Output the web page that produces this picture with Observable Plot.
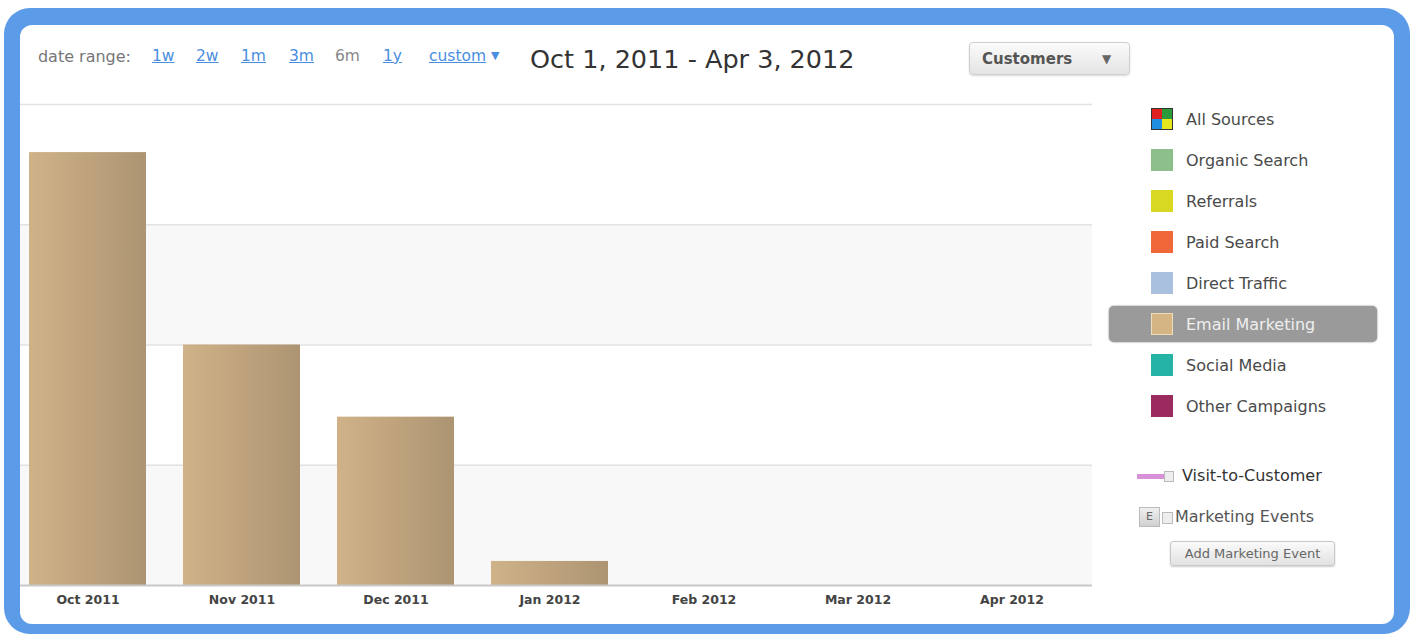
<!DOCTYPE html>
<html><head><meta charset="utf-8">
<script src="https://cdn.jsdelivr.net/npm/d3@7"></script>
<script src="https://cdn.jsdelivr.net/npm/@observablehq/plot@0.6"></script>
<style>
html,body{margin:0;padding:0;background:#fff;width:1413px;height:635px;overflow:hidden;font-family:"DejaVu Sans",Verdana,sans-serif;}
#frame{position:absolute;left:4px;top:8px;width:1406px;height:626px;background:#5b9be8;border-radius:26px;}
#inner{position:absolute;left:20px;top:25px;width:1374px;height:599px;background:#fff;border-radius:12px;overflow:hidden;}
#chart{position:absolute;left:-20px;top:-25px;}
#overlay{position:absolute;left:20px;top:25px;width:1374px;height:599px;overflow:hidden;}
#ovin{position:absolute;left:-20px;top:-25px;width:1413px;height:635px;}
.abs{position:absolute;white-space:nowrap;}
.link{color:#4a8ee0;text-decoration:underline;}
.legrow{position:absolute;left:1131px;width:246px;height:36px;}
.sw{position:absolute;top:7px;width:22px;height:22px;box-sizing:border-box;}
.lt{position:absolute;left:55px;top:9px;font-size:16px;color:#4a4a4a;}
</style></head>
<body>
<div id="frame"></div>
<div id="inner"><div id="chart"></div></div>
<div id="overlay"><div id="ovin"></div></div>
<script>
const months = ["Oct 2011","Nov 2011","Dec 2011","Jan 2012","Feb 2012","Mar 2012","Apr 2012"];
const customers = [18, 10, 7, 1, 0, 0, 0];
const yTicks = [0, 5, 10, 15, 20];
const shadedBands = [[0,5],[10,15]];
const rangeLinks = ["1w","2w","1m","3m","6m","1y","custom"];
const activeRange = "6m";
const titleText = "Oct 1, 2011 - Apr 3, 2012";
const legendLabels = ["All Sources","Organic Search","Referrals","Paid Search","Direct Traffic","Email Marketing","Social Media","Other Campaigns"];
const legendColors = [null,"#8dbf8a","#d8d822","#f0683a","#a9c0de","#d4b583","#24b3a5","#9b2b5e"];
const selectedLegend = "Email Marketing";

const data = months.map((m,i)=>({month:m, value:customers[i]}));
const bands = shadedBands.map(([a,b])=>({y1:a,y2:b}));

const plot = Plot.plot({
  width: 1092, height: 625,
  marginLeft: 27, marginRight: 19, marginTop: 104, marginBottom: 40,
  x: {domain: months, paddingInner: 0.238, paddingOuter: 0, label: null},
  y: {domain: [0,20], axis: null},
  style: {fontFamily: '"DejaVu Sans", Verdana, sans-serif', background: "transparent"},
  marks: [
    Plot.rect(bands, {y1:"y1", y2:"y2", fill:"#f8f8f8", insetLeft:-30, insetRight:-19}),
    Plot.ruleY(yTicks.filter(d=>d>0), {stroke:"#e2e2e2", strokeWidth:1.5, insetLeft:-30, insetRight:-19}),
    Plot.barY(data, {x:"month", y:"value", fill:"url(#barGrad)"}),
    Plot.ruleY([0], {stroke:"#c8c8c8", strokeWidth:2, insetLeft:-30, insetRight:-19}),
    Plot.axisX({tickSize:0, tickPadding:10, fontSize:12.5, fontWeight:"bold", fill:"#444", label:null})
  ]
});
const defs = d3.select(plot).insert("defs", ":first-child");
const g = defs.append("linearGradient").attr("id","barGrad").attr("x1","0").attr("x2","1").attr("y1","0").attr("y2","0");
g.append("stop").attr("offset","0").attr("stop-color","#cfb288");
g.append("stop").attr("offset","1").attr("stop-color","#ad9472");
document.getElementById("chart").appendChild(plot);

const ov = document.getElementById("ovin");
let html = "";
// header
html += `<div class="abs" style="left:24px;top:47px;width:107px;text-align:right;font-size:16px;color:#777;">date range:</div>`;
const linkX = [152,196,241,289,335,383,429];
rangeLinks.forEach((r,i)=>{
  const active = r===activeRange;
  html += `<div class="abs ${active?"":"link"}" style="left:${linkX[i]}px;top:47px;font-size:15.5px;color:${active?"#888":"#4a8ee0"};">${r}${r==="custom"?'<span style="text-decoration:none;display:inline-block;margin-left:5px;font-size:11px;vertical-align:2px;">▼</span>':""}</div>`;
});
html += `<div class="abs" style="left:530px;top:44px;font-size:25.5px;color:#333;">${titleText}</div>`;
html += `<div class="abs" style="left:969px;top:42px;width:161px;height:33px;box-sizing:border-box;border:1px solid #cfcfcf;border-radius:4px;background:linear-gradient(#fbfbfb,#e4e4e4);box-shadow:0 1px 2px rgba(0,0,0,0.15);"><span style="position:absolute;left:12px;top:7px;font-size:15px;font-weight:bold;color:#555;">Customers</span><span style="position:absolute;left:132px;top:9px;font-size:12px;color:#666;">▼</span></div>`;
// legend
legendLabels.forEach((lab,i)=>{
  const top = 101 + i*41;
  const sel = lab===selectedLegend;
  const swLeft = sel ? 42 : 20;
  let sw;
  if (legendColors[i]===null) {
    sw = `<div class="sw" style="left:${swLeft}px;border:1px solid #333;background:conic-gradient(#2a9a3a 0 25%, #e6e61e 25% 50%, #1e8fe0 50% 75%, #e02020 75% 100%);"></div>`;
  } else {
    sw = `<div class="sw" style="left:${swLeft}px;background:${legendColors[i]};${sel?"border:1px solid #ecdcbc;":""}"></div>`;
  }
  html += `<div class="legrow" style="top:${top}px;${sel?"left:1109px;width:268px;background:#9a9a9a;border-radius:5px;box-shadow:0 0 2px #777;":""}">${sw}<div class="lt" style="${sel?"left:77px;color:#eee;":""}">${lab}</div></div>`;
});
html += `<div class="abs" style="left:1137px;top:474px;width:28px;height:5px;background:#d892d8;"></div>`;
html += `<div class="abs" style="left:1164px;top:471px;width:10px;height:11px;border:1px solid #bbb;background:#eee;box-sizing:border-box;"></div>`;
html += `<div class="abs" style="left:1182px;top:466px;font-size:16px;color:#333;">Visit-to-Customer</div>`;
html += `<div class="abs" style="left:1139px;top:507px;width:21px;height:20px;border:1px solid #bbb;background:linear-gradient(#f0f0f0,#d0d0d0);box-sizing:border-box;font-size:11px;color:#666;text-align:center;line-height:18px;">E</div>`;
html += `<div class="abs" style="left:1162px;top:512px;width:11px;height:12px;border:1px solid #bbb;background:#eee;box-sizing:border-box;"></div>`;
html += `<div class="abs" style="left:1175px;top:507px;font-size:16px;color:#555;">Marketing Events</div>`;
html += `<div class="abs" style="left:1170px;top:541px;width:165px;height:25px;box-sizing:border-box;border:1px solid #c8c8c8;border-radius:3px;background:linear-gradient(#fafafa,#e2e2e2);box-shadow:0 1px 2px rgba(0,0,0,0.2);font-size:13px;color:#666;text-align:center;line-height:23px;">Add Marketing Event</div>`;
ov.innerHTML = html;
</script>
</body></html>
